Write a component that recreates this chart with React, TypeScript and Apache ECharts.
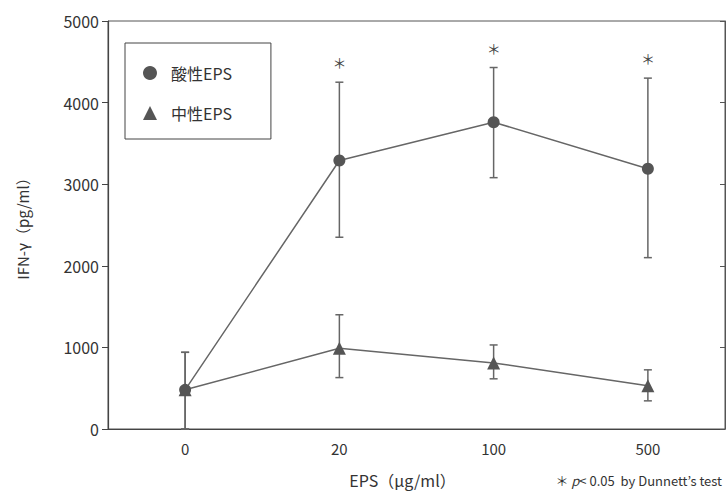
import React, { useEffect, useRef } from "react";
import * as echarts from "echarts";

const categories = ["0", "20", "100", "500"];
const acidicMean = [480, 3290, 3760, 3190];
const acidicLow = [0, 2350, 3080, 2100];
const acidicHigh = [940, 4250, 4430, 4300];
const neutralMean = [480, 990, 810, 530];
const neutralLow = [0, 630, 615, 345];
const neutralHigh = [940, 1400, 1030, 725];
const significant = [false, true, true, true];
const yMin = 0;
const yMax = 5000;
const yInterval = 1000;

const FONT = "'Noto Sans CJK JP', 'Noto Sans', sans-serif";

function errorRender(color: string) {
  return (params: any, api: any) => {
    const x = api.value(0);
    const lo = api.coord([x, api.value(1)]);
    const hi = api.coord([x, api.value(2)]);
    const w = 4;
    const style = { stroke: color, lineWidth: 1.5 };
    return {
      type: "group",
      children: [
        { type: "line", shape: { x1: lo[0], y1: lo[1], x2: hi[0], y2: hi[1] }, style },
        { type: "line", shape: { x1: lo[0] - w, y1: lo[1], x2: lo[0] + w, y2: lo[1] }, style },
        { type: "line", shape: { x1: hi[0] - w, y1: hi[1], x2: hi[0] + w, y2: hi[1] }, style },
      ],
    };
  };
}

export default function App() {
  const ref = useRef<HTMLDivElement>(null);
  useEffect(() => {
    if (!ref.current) return;
    const chart = echarts.init(ref.current, null, { renderer: "svg" });
    const acidErr = categories.map((_, i) => [i, acidicLow[i], acidicHigh[i]]);
    const neutErr = categories.map((_, i) => [i, neutralLow[i], neutralHigh[i]]);
    const sigData = categories
      .map((_, i) => [i, acidicHigh[i]])
      .filter((_, i) => significant[i]);
    chart.setOption({
      animation: false,
      backgroundColor: "#fff",
      textStyle: { fontFamily: FONT },
      grid: {
        left: 108,
        right: 3,
        top: 21,
        bottom: 63,
        show: true,
        borderColor: "#555",
        borderWidth: 1,
        containLabel: false,
        outerBoundsMode: "none",
      },
      legend: {
        orient: "vertical",
        left: 125,
        top: 43,
        padding: [22, 39, 18, 18],
        itemGap: 24,
        itemWidth: 14,
        itemHeight: 14,
        borderColor: "#444",
        borderWidth: 1,
        data: [
          { name: "酸性EPS", icon: "circle" },
          { name: "中性EPS", icon: "triangle" },
        ],
        textStyle: { fontFamily: FONT, fontSize: 16, color: "#333", padding: [0, 0, 0, 9] },
      },
      xAxis: {
        type: "category",
        data: categories,
        boundaryGap: true,
        name: "EPS（μg/ml）",
        nameLocation: "middle",
        nameGap: 42,
        nameTextStyle: {
          fontFamily: FONT,
          fontSize: 16,
          lineHeight: 18,
          color: "#333",
          padding: [0, 28, 0, 0],
        },
        axisLine: { lineStyle: { color: "#444", width: 1.2 } },
        axisTick: { show: false },
        axisLabel: { fontFamily: FONT, fontSize: 15, color: "#333", margin: 12 },
      },
      yAxis: [
        {
          type: "value",
          min: yMin,
          max: yMax,
          interval: yInterval,
          name: "IFN-γ（pg/ml）",
          nameLocation: "middle",
          nameGap: 78,
          nameTextStyle: { fontFamily: FONT, fontSize: 15, color: "#333" },
          axisLine: { show: true, lineStyle: { color: "#444", width: 1.2 } },
          axisTick: { show: true, length: 6, lineStyle: { color: "#444" } },
          axisLabel: {
            fontFamily: FONT,
            fontSize: 16,
            color: "#333",
            margin: 9,
            formatter: (v: number) => String(v),
          },
          splitLine: { show: false },
        },
        {
          type: "value",
          position: "right",
          min: yMin,
          max: yMax,
          interval: yInterval,
          axisLine: { show: true, lineStyle: { color: "#555" } },
          axisTick: { show: true, inside: true, length: 5, lineStyle: { color: "#555" } },
          axisLabel: { show: false },
          splitLine: { show: false },
        },
      ],
      series: [
        {
          name: "酸性EPS err",
          type: "custom",
          data: acidErr,
          encode: { x: 0, y: [1, 2] },
          renderItem: errorRender("#666"),
          z: 1,
        },
        {
          name: "中性EPS err",
          type: "custom",
          data: neutErr,
          encode: { x: 0, y: [1, 2] },
          renderItem: errorRender("#666"),
          z: 1,
        },
        {
          name: "酸性EPS",
          type: "line",
          data: acidicMean,
          symbol: "circle",
          symbolSize: 12,
          itemStyle: { color: "#555" },
          lineStyle: { color: "#666", width: 1.5 },
          z: 3,
        },
        {
          name: "中性EPS",
          type: "line",
          data: neutralMean,
          symbol: "triangle",
          symbolSize: 13,
          itemStyle: { color: "#555" },
          lineStyle: { color: "#666", width: 1.5 },
          z: 3,
        },
        {
          name: "sig",
          type: "custom",
          data: sigData,
          encode: { x: 0, y: 1 },
          renderItem: (params: any, api: any) => {
            const p = api.coord([api.value(0), api.value(1)]);
            return {
              type: "text",
              x: p[0],
              y: p[1] - 20,
              style: {
                text: "＊",
                fontSize: 14,
                fontFamily: FONT,
                fill: "#444",
                align: "center",
                verticalAlign: "middle",
              },
            };
          },
          z: 4,
        },
      ],
      graphic: [
        {
          type: "text",
          right: 6,
          top: 474,
          style: {
            text: "＊ {it|p}< 0.05  by Dunnett’s test",
            fontFamily: FONT,
            fontSize: 13,
            fill: "#333",
            rich: { it: { fontStyle: "italic", fontSize: 13, fontFamily: FONT, fill: "#333" } },
          },
        },
      ],
    });
    return () => chart.dispose();
  }, []);
  return <div ref={ref} style={{ width: 728, height: 492, position: "absolute", left: 0, top: 0 }} />;
}
